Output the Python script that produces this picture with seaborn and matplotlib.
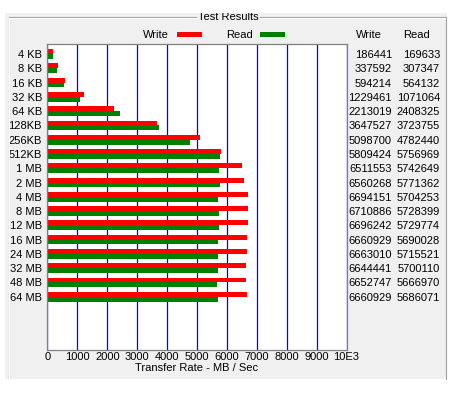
import matplotlib
matplotlib.use("Agg")
import matplotlib.pyplot as plt
import matplotlib.transforms as mtrans
from matplotlib.patches import Rectangle
from matplotlib.lines import Line2D
import pandas as pd
import seaborn as sns

# ---------------- data ----------------
sizes = ["4 KB", "8 KB", "16 KB", "32 KB", "64 KB", "128KB", "256KB", "512KB",
         "1 MB", "2 MB", "4 MB", "8 MB", "12 MB", "16 MB", "24 MB", "32 MB",
         "48 MB", "64 MB"]
write_vals = [186441, 337592, 594214, 1229461, 2213019, 3647527, 5098700, 5809424,
              6511553, 6560268, 6694151, 6710886, 6696242, 6660929, 6663010,
              6644441, 6652747, 6660929]
read_vals = [169633, 307347, 564132, 1071064, 2408325, 3723755, 4782440, 5756969,
             5742649, 5771362, 5704253, 5728399, 5729774, 5690028, 5715521,
             5700110, 5666970, 5686071]
x_ticks = [0, 1000, 2000, 3000, 4000, 5000, 6000, 7000, 8000, 9000, 10000]
x_tick_labels = ["0", "1000", "2000", "3000", "4000", "5000", "6000", "7000",
                 "8000", "9000", "10E3"]
series = ["Write", "Read"]
colors = {"Write": "#FF0000", "Read": "#008000"}

df = pd.DataFrame({
    "size": sizes * 2,
    "kind": ["Write"] * len(sizes) + ["Read"] * len(sizes),
    "raw": write_vals + read_vals,
})
df["rate"] = df["raw"] / 1000.0  # MB/s

# ---------------- figure ----------------
plt.rcParams["font.family"] = ["Liberation Sans", "DejaVu Sans"]
W, H = 460, 398
fig = plt.figure(figsize=(W / 100, H / 100), dpi=100)
fig.patch.set_facecolor("white")


def fx(x):
    return x / W


def fy(y):
    return 1 - y / H


# grey panel
panel = Rectangle((fx(5), fy(379)), (447 - 5) / W, (379 - 13) / H,
                  transform=fig.transFigure, facecolor="#F0F0F0",
                  edgecolor="none", zorder=0)
fig.add_artist(panel)

# group box lines
gb = "#A0A0A0"
for xs, ys in [((8.5, 8.5), (16.5, 379)),
               ((8.5, 196), (16.5, 16.5)),
               ((260, 446), (16.5, 16.5)),
               ((446, 446), (16.5, 379))]:
    fig.add_artist(Line2D([fx(v) for v in xs], [fy(v) for v in ys],
                          transform=fig.transFigure, color=gb, lw=0.8, zorder=1))
for xs, ys in [((9.5, 9.5), (17.5, 379)),
               ((9.5, 196), (17.5, 17.5)),
               ((260, 445), (17.5, 17.5))]:
    fig.add_artist(Line2D([fx(v) for v in xs], [fy(v) for v in ys],
                          transform=fig.transFigure, color="white", lw=0.8, zorder=1))

title = fig.text(fx(228), fy(17.5), "Test Results", ha="center", va="center",
                 fontsize=8, zorder=2)
title.set_clip_path(panel)

# legend
fig.text(fx(169), fy(34.5), "Write", ha="right", va="center", fontsize=8)
fig.add_artist(Rectangle((fx(177), fy(36.7)), 25 / W, 4.5 / H,
                         transform=fig.transFigure, facecolor=colors["Write"],
                         edgecolor="none"))
fig.text(fx(253), fy(34.5), "Read", ha="right", va="center", fontsize=8)
fig.add_artist(Rectangle((fx(260), fy(36.7)), 25 / W, 4.5 / H,
                         transform=fig.transFigure, facecolor=colors["Read"],
                         edgecolor="none"))

# column headers
fig.text(fx(368.5), fy(34.5), "Write", ha="center", va="center", fontsize=8)
fig.text(fx(417), fy(34.5), "Read", ha="center", va="center", fontsize=8)

# ---------------- plot axes ----------------
ax = fig.add_axes([fx(47.5), fy(350), (346.5 - 47.5) / W, (350 - 44) / H])
ax.set_facecolor("white")
sns.barplot(data=df, y="size", x="rate", hue="kind", hue_order=series,
            order=sizes, palette=colors, orient="h", width=0.68, gap=0,
            dodge=True, saturation=1, errorbar=None, legend=False,
            linewidth=0, ax=ax)

ax.set_xlim(0, 10000)
ax.set_ylim(20.73, -0.70)
ax.set_xticks(x_ticks)
ax.set_xticklabels(x_tick_labels)
ax.set_axisbelow(True)
ax.grid(axis="x", color="#0000FF", linewidth=0.9, snap=True)
ax.grid(axis="y", visible=False)
for s in ax.spines.values():
    s.set_color("#808080")
    s.set_linewidth(0.9)
    s.set_zorder(5)
ax.tick_params(axis="x", length=0, labelsize=8, pad=1.5)
ax.tick_params(axis="y", length=0, labelsize=8, pad=4)
ax.set_ylabel("")
ax.set_xlabel("Transfer Rate - MB / Sec", fontsize=8, labelpad=0.5)

# numeric columns tied to the rows
tr = mtrans.blended_transform_factory(fig.transFigure, ax.transData)
for i, (w, r) in enumerate(zip(write_vals, read_vals)):
    ax.text(fx(392), i, f"{w}", transform=tr, ha="right", va="center_baseline",
            fontsize=8, clip_on=False)
    ax.text(fx(440), i, f"{r}", transform=tr, ha="right", va="center_baseline",
            fontsize=8, clip_on=False)

fig.savefig("out.png", dpi=100)
